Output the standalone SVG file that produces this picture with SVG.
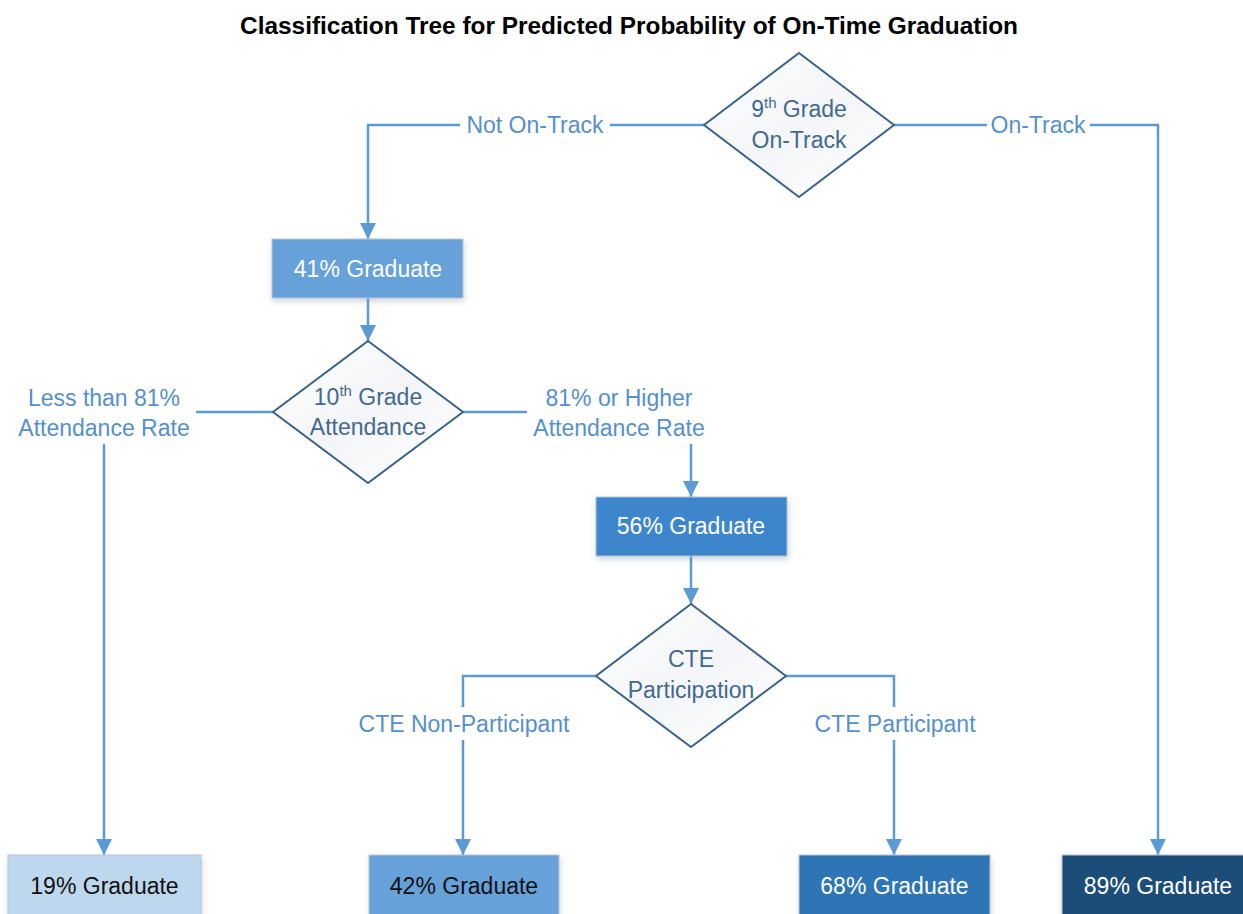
<svg xmlns="http://www.w3.org/2000/svg" width="1243" height="914" viewBox="0 0 1243 914">
  <style>
    .title { font-family: "Liberation Sans", Arial, sans-serif; font-weight: bold; font-size: 23px; fill: #000; }
    .dtext { font-family: "Liberation Sans", Arial, sans-serif; font-size: 23px; fill: #43698f; text-anchor: middle; }
    .sup { font-size: 15px; }
    .btext { font-family: "Liberation Sans", Arial, sans-serif; font-size: 23px; text-anchor: middle; }
    .white { fill: #ffffff; }
    .black { fill: #111111; }
    .ltext { font-family: "Liberation Sans", Arial, sans-serif; font-size: 23px; fill: #5590cc; text-anchor: middle; }
    .conn { fill: none; stroke: #5b9bd5; stroke-width: 2.5; }
    .diamond { fill: url(#dgrad); stroke: #3b6287; stroke-width: 2; }
    .box { stroke: #b9c6d3; stroke-width: 1; filter: url(#shadow); }
    .lbg { fill: #ffffff; }
  </style>
  <defs>
    <linearGradient id="dgrad" x1="0" y1="0" x2="1" y2="1">
      <stop offset="0" stop-color="#ffffff"/>
      <stop offset="0.5" stop-color="#f3f5f8"/>
      <stop offset="1" stop-color="#ffffff"/>
    </linearGradient>
    <filter id="shadow" x="-10%" y="-10%" width="125%" height="140%">
      <feDropShadow dx="1" dy="3" stdDeviation="3" flood-color="#7a8da3" flood-opacity="0.35"/>
    </filter>
    <marker id="arrow" markerUnits="userSpaceOnUse" markerWidth="16" markerHeight="18" refX="16" refY="8" orient="auto">
      <path d="M0,0 L16,8 L0,16 Z" fill="#5b9bd5"/>
    </marker>
  </defs>

  <rect width="1243" height="914" fill="#ffffff"/>

  <text class="title" x="240" y="34" textLength="778" lengthAdjust="spacingAndGlyphs">Classification Tree for Predicted Probability of On-Time Graduation</text>

  <g id="connectors">
    <path class="conn" d="M704,125 H368 V239" marker-end="url(#arrow)"/>
    <path class="conn" d="M894,125 H1158 V855" marker-end="url(#arrow)"/>
    <path class="conn" d="M368,298 V341" marker-end="url(#arrow)"/>
    <path class="conn" d="M273,412 H104 V855" marker-end="url(#arrow)"/>
    <path class="conn" d="M463,412 H691 V497" marker-end="url(#arrow)"/>
    <path class="conn" d="M691,556 V604" marker-end="url(#arrow)"/>
    <path class="conn" d="M596,676 H463 V855" marker-end="url(#arrow)"/>
    <path class="conn" d="M786,676 H894 V855" marker-end="url(#arrow)"/>

    <g id="label-not-on-track">
      <rect class="lbg" x="460" y="112" width="150" height="27"/>
      <text class="ltext" x="535" y="133">Not On-Track</text>
    </g>
    <g id="label-on-track">
      <rect class="lbg" x="987" y="112" width="103" height="27"/>
      <text class="ltext" x="1038" y="133">On-Track</text>
    </g>
    <g id="label-less-81">
      <rect class="lbg" x="10" y="384" width="186" height="60"/>
      <text class="ltext" x="104" y="406">Less than 81%</text>
      <text class="ltext" x="104" y="436">Attendance Rate</text>
    </g>
    <g id="label-81-higher">
      <rect class="lbg" x="527" y="384" width="185" height="60"/>
      <text class="ltext" x="619" y="406">81% or Higher</text>
      <text class="ltext" x="619" y="436">Attendance Rate</text>
    </g>
    <g id="label-cte-non">
      <rect class="lbg" x="352" y="707" width="224" height="33"/>
      <text class="ltext" x="464" y="732">CTE Non-Participant</text>
    </g>
    <g id="label-cte-part">
      <rect class="lbg" x="810" y="707" width="170" height="33"/>
      <text class="ltext" x="895" y="732">CTE Participant</text>
    </g>
  </g>

  <g id="node-9th-grade">
    <polygon class="diamond" points="799,53 894,125 799,197 704,125"/>
    <text class="dtext" x="799" y="117">9<tspan class="sup" dy="-9">th</tspan><tspan dy="9"> Grade</tspan></text>
    <text class="dtext" x="799" y="148">On-Track</text>
  </g>

  <g id="node-41">
    <rect class="box" x="272" y="239" width="191" height="59" fill="#66a1d9"/>
    <text class="btext white" x="368" y="277">41% Graduate</text>
  </g>

  <g id="node-10th-grade">
    <polygon class="diamond" points="368,341 463,412 368,483 273,412"/>
    <text class="dtext" x="368" y="405">10<tspan class="sup" dy="-9">th</tspan><tspan dy="9"> Grade</tspan></text>
    <text class="dtext" x="368" y="435">Attendance</text>
  </g>

  <g id="node-56">
    <rect class="box" x="596" y="497" width="191" height="59" fill="#3c86cb"/>
    <text class="btext white" x="691" y="534">56% Graduate</text>
  </g>

  <g id="node-cte">
    <polygon class="diamond" points="691,604 786,676 691,747 596,676"/>
    <text class="dtext" x="691" y="667">CTE</text>
    <text class="dtext" x="691" y="698">Participation</text>
  </g>

  <g id="node-19">
    <rect class="box" x="8" y="855" width="193" height="70" fill="#bdd7ee"/>
    <text class="btext black" x="104.5" y="894">19% Graduate</text>
  </g>

  <g id="node-42">
    <rect class="box" x="369" y="855" width="190" height="70" fill="#66a1d9"/>
    <text class="btext black" x="464" y="894">42% Graduate</text>
  </g>

  <g id="node-68">
    <rect class="box" x="799" y="855" width="191" height="70" fill="#2e75b6"/>
    <text class="btext white" x="894.5" y="894">68% Graduate</text>
  </g>

  <g id="node-89">
    <rect class="box" x="1062" y="855" width="192" height="70" fill="#1f4e79"/>
    <text class="btext white" x="1158" y="894">89% Graduate</text>
  </g>
</svg>
